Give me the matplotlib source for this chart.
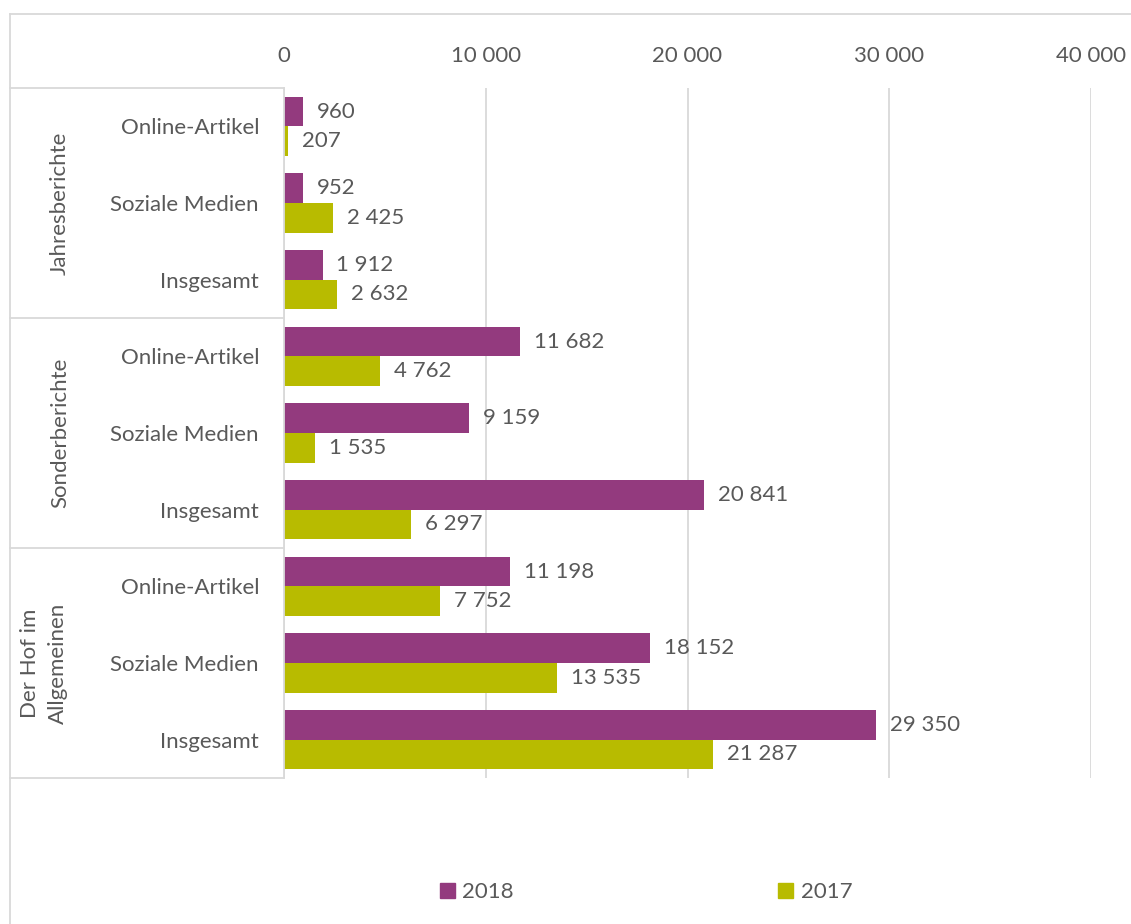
import matplotlib
matplotlib.use("Agg")
import matplotlib.pyplot as plt
from matplotlib.lines import Line2D
from matplotlib.patches import Patch
from matplotlib.transforms import blended_transform_factory

# figures per category, top to bottom
groups = ["Jahresberichte", "Sonderberichte", "Der Hof im\nAllgemeinen"]
categories = ["Online-Artikel", "Soziale Medien", "Insgesamt"] * 3
values_2018 = [960, 952, 1912, 11682, 9159, 20841, 11198, 18152, 29350]
values_2017 = [207, 2425, 2632, 4762, 1535, 6297, 7752, 13535, 21287]
xticks = [0, 10000, 20000, 30000, 40000]

purple = "#933A7E"
olive = "#B8BB00"
grey_text = "#595959"
line_col = "#D9D9D9"

plt.rcParams["font.family"] = ["Lato", "DejaVu Sans"]
plt.rcParams["font.size"] = 16

W, H = 1131, 924
fig = plt.figure(figsize=(W / 100, H / 100), dpi=100)

def fx(px):
    return px / W

def fy(py):
    return 1 - py / H

ax = fig.add_axes([fx(284), fy(778), fx(1091) - fx(284), fy(88) - fy(778)])

n = len(categories)
pos = list(range(n))
h = 0.385
ax.barh([p - h / 2 for p in pos], values_2018, height=h, color=purple, label="2018")
ax.barh([p + h / 2 for p in pos], values_2017, height=h, color=olive, label="2017")

def fmt(v):
    return f"{v:,}".replace(",", " ")

for p, v in zip(pos, values_2018):
    ax.annotate(fmt(v), (v, p - h / 2), xytext=(10, 0), textcoords="offset points",
                ha="left", va="center", color=grey_text)
for p, v in zip(pos, values_2017):
    ax.annotate(fmt(v), (v, p + h / 2), xytext=(10, 0), textcoords="offset points",
                ha="left", va="center", color=grey_text)

ax.set_xlim(0, 40000)
ax.set_ylim(n - 0.5, -0.5)
ax.set_xticks(xticks)
ax.set_xticklabels([fmt(t) for t in xticks], color=grey_text)
ax.xaxis.tick_top()
ax.tick_params(axis="x", length=0, pad=16)
ax.set_yticks(pos)
ax.set_yticklabels(categories, color=grey_text)
ax.tick_params(axis="y", length=0, pad=18)
ax.grid(axis="x", color=line_col, linewidth=1.3)
ax.set_axisbelow(True)
for s in ax.spines.values():
    s.set_visible(False)

# group boxes and outer frame
lw = 1.3
for py in [88, 318, 548, 778]:
    fig.add_artist(Line2D([fx(10), fx(284)], [fy(py), fy(py)], color=line_col, lw=lw))
fig.add_artist(Line2D([fx(284), fx(284)], [fy(88), fy(778)], color=line_col, lw=lw))
fig.add_artist(Line2D([fx(10), fx(10)], [fy(14), fy(924)], color=line_col, lw=lw))
fig.add_artist(Line2D([fx(10), fx(1131)], [fy(14), fy(14)], color=line_col, lw=lw))

# group labels, rotated
tr = blended_transform_factory(fig.transFigure, ax.transData)
for i, g in enumerate(groups):
    ax.text(fx(60) if "\n" not in g else fx(44), i * 3 + 1, g, transform=tr,
            rotation=90, ha="center", va="center", color=grey_text,
            linespacing=1.5, multialignment="center")

handles = [Patch(color=purple), Patch(color=olive)]
fig.legend(handles, ["2018", "2017"], loc="center left",
           bbox_to_anchor=(fx(440), fy(892)), ncol=2, frameon=False,
           borderpad=0, borderaxespad=0, handlelength=0.68, handleheight=0.68,
           handletextpad=0.32, columnspacing=11.9, labelcolor=grey_text)

fig.savefig("out.png", dpi=100)
